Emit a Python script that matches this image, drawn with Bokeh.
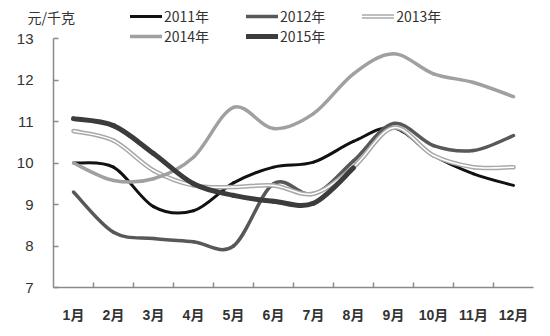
from bokeh.plotting import figure
from bokeh.models import Range1d, FixedTicker, Legend, LegendItem
from bokeh.embed import file_html
from bokeh.resources import INLINE

months = ["1月", "2月", "3月", "4月", "5月", "6月", "7月", "8月", "9月", "10月", "11月", "12月"]
y2011 = [10.0, 9.9, 8.95, 8.85, 9.52, 9.9, 10.02, 10.52, 10.85, 10.18, 9.74, 9.46]
y2012 = [9.3, 8.33, 8.18, 8.1, 8.0, 9.5, 9.25, 10.05, 10.95, 10.42, 10.3, 10.66]
y2013 = [10.77, 10.54, 9.82, 9.46, 9.42, 9.46, 9.26, 9.9, 10.85, 10.18, 9.9, 9.9]
y2014 = [10.0, 9.58, 9.62, 10.14, 11.34, 10.83, 11.19, 12.15, 12.63, 12.15, 11.94, 11.6]
y2015 = [11.07, 10.9, 10.23, 9.5, 9.22, 9.08, 9.03, 9.88]
yticks = [7, 8, 9, 10, 11, 12, 13]

FONT = "Liberation Sans, Noto Sans CJK SC"


def bezier_parts(ys):
    xs = list(range(1, len(ys) + 1))
    n = len(ys)
    d = dict(x0=[], y0=[], x1=[], y1=[], cx0=[], cy0=[], cx1=[], cy1=[])
    for i in range(n - 1):
        im1 = max(i - 1, 0)
        ip2 = min(i + 2, n - 1)
        d["x0"].append(xs[i]); d["y0"].append(ys[i])
        d["x1"].append(xs[i + 1]); d["y1"].append(ys[i + 1])
        d["cx0"].append(xs[i] + (xs[i + 1] - xs[im1]) / 6.0)
        d["cy0"].append(ys[i] + (ys[i + 1] - ys[im1]) / 6.0)
        d["cx1"].append(xs[i + 1] - (xs[ip2] - xs[i]) / 6.0)
        d["cy1"].append(ys[i + 1] - (ys[ip2] - ys[i]) / 6.0)
    return d


p = figure(width=550, height=336, output_backend="svg", toolbar_location=None,
           x_range=Range1d(0.5, 12.5), y_range=Range1d(7, 13.916),
           min_border_left=53, min_border_right=17, min_border_top=0, min_border_bottom=49)
p.outline_line_color = None
p.xgrid.visible = False
p.ygrid.visible = False
p.background_fill_color = "white"
p.border_fill_color = "white"

p.title.text = "元/千克"
p.title.align = "left"
p.title.offset = -26
p.title.standoff = -53
p.title.text_font = "Noto Sans CJK SC"
p.title.text_font_size = "14px"
p.title.text_font_style = "normal"
p.title.text_color = "#333333"

xa = p.xaxis[0]
xa.ticker = FixedTicker(ticks=list(range(1, 13)), minor_ticks=[i + 0.5 for i in range(1, 12)])
xa.major_label_overrides = {i + 1: m for i, m in enumerate(months)}
xa.axis_line_color = "#8a8a8a"
xa.axis_line_width = 1.5
xa.major_tick_in = 0
xa.major_tick_out = 0
xa.minor_tick_in = 5
xa.minor_tick_out = 0
xa.minor_tick_line_color = "#8a8a8a"
xa.minor_tick_line_width = 1.5
xa.major_label_text_font = FONT
xa.major_label_text_font_size = "14px"
xa.major_label_text_font_style = "bold"
xa.major_label_text_color = "#333333"
xa.major_label_standoff = 19

ya = p.yaxis[0]
ya.ticker = FixedTicker(ticks=yticks)
ya.bounds = (7, 13)
ya.axis_line_color = "#8a8a8a"
ya.axis_line_width = 1.5
ya.major_tick_in = 5
ya.major_tick_out = 0
ya.major_tick_line_color = "#8a8a8a"
ya.major_tick_line_width = 1.5
ya.minor_tick_in = 0
ya.minor_tick_out = 0
ya.major_label_text_font = FONT
ya.major_label_text_font_size = "15px"
ya.major_label_text_color = "#333333"
ya.major_label_standoff = 20

r11 = p.bezier(line_color="#111111", line_width=3, line_cap="round", **bezier_parts(y2011))
r12 = p.bezier(line_color="#585858", line_width=3.5, line_cap="round", **bezier_parts(y2012))
r13a = p.bezier(line_color="#a8a8a8", line_width=4.5, line_cap="round", **bezier_parts(y2013))
r13b = p.bezier(line_color="white", line_width=1.5, line_cap="round", **bezier_parts(y2013))
r14 = p.bezier(line_color="#a0a0a0", line_width=3.5, line_cap="round", **bezier_parts(y2014))
r15 = p.bezier(line_color="#3c3c3c", line_width=5, line_cap="round", **bezier_parts(y2015))


def make_legend(items, loc):
    lg = Legend(items=items, location=loc, orientation="horizontal",
                glyph_width=32, glyph_height=14, label_standoff=2, spacing=37,
                padding=0, margin=0, border_line_color=None, background_fill_alpha=0,
                label_text_font="Noto Sans CJK SC", label_text_font_size="14px",
                label_text_color="#333333", label_height=14)
    p.add_layout(lg, "center")
    return lg


make_legend([LegendItem(label="2011年", renderers=[r11]),
             LegendItem(label="2012年", renderers=[r12]),
             LegendItem(label="2013年", renderers=[r13a, r13b])], (77, 261))
make_legend([LegendItem(label="2014年", renderers=[r14]),
             LegendItem(label="2015年", renderers=[r15])], (77, 241))

open("out.html", "w").write(file_html(p, INLINE))
